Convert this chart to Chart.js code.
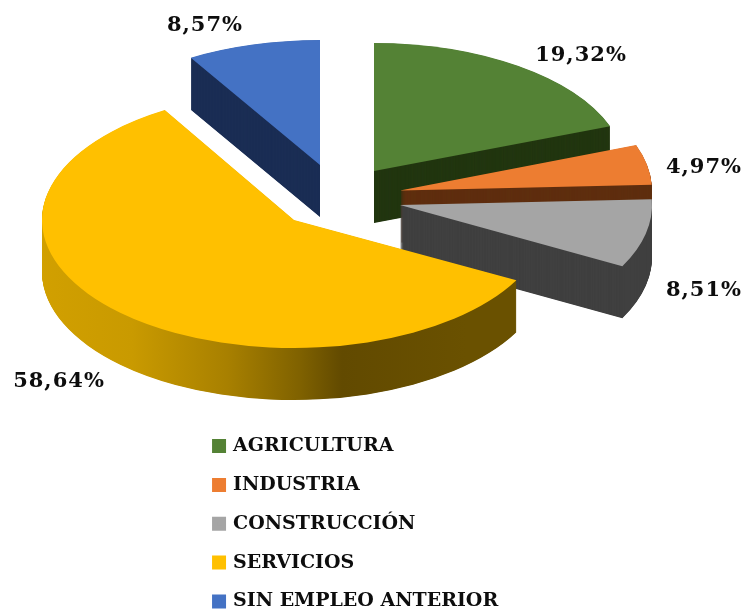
<!DOCTYPE html>
<html><head><meta charset="utf-8">
<style>html,body{margin:0;padding:0;background:#fff}#w{width:744px;height:609px}</style>
<script src="https://cdn.jsdelivr.net/npm/chart.js@4/dist/chart.umd.min.js"></script>
</head><body><div id="w"><canvas id="c" width="744" height="609"></canvas></div>
<script>
const categories = ['AGRICULTURA','INDUSTRIA','CONSTRUCCIÓN','SERVICIOS','SIN EMPLEO ANTERIOR'];
const shares = [19.32,4.97,8.51,58.64,8.57];
const valueLabels = ['19,32%','4,97%','8,51%','58,64%','8,57%'];
const topColors = ['#548235','#ed7d31','#a5a5a5','#ffc000','#4472c4'];
const wallColors = ['#223610','#5f2e0f','#404040',null,'#1a2d54'];

// Look of the tilted, exploded pie (screen pixels)
const CENTER = {x:345,y:193}, RX = 252, DEPTH = 52;
const RY = [128,130,130,128,125];
const EXPLODE = [[29,-22],[55,-2.5],[55,12],[-51,27],[-25,-28]];
const DRAW_ORDER = [4,0,1,2,3];
const LABEL_AT = [[581,56],[704,168],[704,291],[59,382],[205,26]];
const FONT = '"DejaVu Serif"';

const pie3d = {
  id:'pie3d',
  afterLayout(chart){
    const l = chart.legend;
    const w = l.right-l.left, h = l.bottom-l.top;
    const dx = 194.7-l.left, dy = 416.7-l.top;
    l.left+=dx; l.right=l.left+w; l.top+=dy; l.bottom=l.top+h;
    (l.legendHitBoxes||[]).forEach(b=>{b.left+=dx;b.top+=dy;});
  },
  beforeDatasetDraw(chart,args){
    const ctx = chart.ctx, arcs = chart.getDatasetMeta(args.index).data;
    const R = arcs[0].outerRadius, sx = RX/R;
    const ox = arcs[0].x, oy = arcs[0].y;
    const toChartX = X => (X-CENTER.x)/sx+ox;
    const grad = ctx.createLinearGradient(toChartX(40),0,toChartX(517),0);
    [[0,'#d6a300'],[.3,'#c99a00'],[.5,'#a88000'],[.65,'#806200'],[.74,'#624a00'],[1,'#6a5100']]
      .forEach(s=>grad.addColorStop(s[0],s[1]));
    const place = (i,d) => {
      const sy = RY[i]/R;
      ctx.setTransform(sx,0,0,sy,CENTER.x+EXPLODE[i][0]-ox*sx,CENTER.y+EXPLODE[i][1]+d-oy*sy);
    };
    ctx.save();
    DRAW_ORDER.forEach(i=>{
      const arc = arcs[i], base = arc.options, keep = base.backgroundColor;
      base.backgroundColor = wallColors[i] || grad;
      for(let d=DEPTH;d>=0.5;d-=0.5){ place(i,d); arc.draw(ctx); }
      base.backgroundColor = keep;
      place(i,0); arc.draw(ctx);
    });
    ctx.restore();
    return false;
  },
  afterDraw(chart){
    const ctx = chart.ctx;
    ctx.save();
    ctx.font = 'bold 21px '+FONT;
    ctx.letterSpacing = '1px';
    ctx.fillStyle = '#0d0d0d';
    ctx.textAlign='center'; ctx.textBaseline='middle';
    valueLabels.forEach((t,i)=>ctx.fillText(t,LABEL_AT[i][0],LABEL_AT[i][1]));
    ctx.restore();
  }
};

new Chart(document.getElementById('c'),{
  type:'pie',
  plugins:[pie3d],
  data:{labels:categories,datasets:[{data:shares,backgroundColor:topColors,borderWidth:0}]},
  options:{
    responsive:false,animation:false,
    plugins:{
      tooltip:{enabled:false},
      legend:{position:'left',align:'start',labels:{
        boxWidth:9,boxHeight:9,padding:19.85,color:'#0d0d0d',
        font:{family:FONT,size:19,weight:'bold'},
        generateLabels(chart){
          return Chart.overrides.pie.plugins.legend.labels.generateLabels(chart)
            .map(it=>Object.assign(it,{strokeStyle:it.fillStyle,lineWidth:5}));
        }}}
    }
  }
});
</script></body></html>
